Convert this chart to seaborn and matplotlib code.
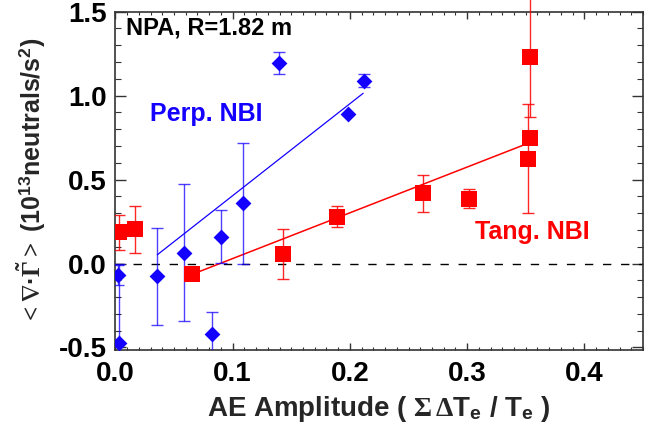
"""AE amplitude vs neutral flux divergence (NPA), perpendicular and tangential NBI."""

import matplotlib

matplotlib.use("Agg")
import matplotlib.pyplot as plt
import numpy as np
import pandas as pd
import seaborn as sns
from matplotlib.ticker import FormatStrFormatter, MultipleLocator

# Perp. NBI (blue diamonds)
perp_x = [0.0025, 0.003, 0.0357, 0.0587, 0.0824, 0.090, 0.1085, 0.1395, 0.1986, 0.2122]
perp_y = [-0.067, -0.472, -0.077, 0.065, -0.42, 0.161, 0.36, 1.193, 0.891, 1.089]
perp_err = [0.06, 0.47, 0.29, 0.41, 0.13, 0.16, 0.36, 0.065, 0.0, 0.04]
perp_fit_x = [0.0357, 0.2113]
perp_fit_y = [0.052, 1.014]

# Tang. NBI (red squares)
tang_x = [0.003, 0.0167, 0.065, 0.1431, 0.1892, 0.2625, 0.3017, 0.3523, 0.354, 0.354]
tang_y = [0.187, 0.205, -0.063, 0.056, 0.28, 0.419, 0.385, 0.625, 0.746, 1.23]
tang_err = [0.105, 0.14, 0.0, 0.15, 0.063, 0.11, 0.057, 0.325, 0.0, 0.36]
tang_fit_x = [0.0693, 0.3506]
tang_fit_y = [-0.054, 0.7125]

x_ticks = [0.0, 0.1, 0.2, 0.3, 0.4]
y_ticks = [-0.5, 0.0, 0.5, 1.0, 1.5]

BLUE = "#1400ff"
RED = "#ff0000"

sns.set_theme(style="ticks")
plt.rcParams["font.family"] = ["Liberation Sans", "DejaVu Sans"]
plt.rcParams["font.weight"] = "bold"
plt.rcParams["axes.unicode_minus"] = False
plt.rcParams["mathtext.fontset"] = "custom"
plt.rcParams["mathtext.rm"] = "Liberation Serif"
plt.rcParams["mathtext.it"] = "Liberation Serif:italic"
plt.rcParams["mathtext.bf"] = "Liberation Sans:bold"
plt.rcParams["mathtext.fallback"] = "stix"

perp = pd.DataFrame({"x": perp_x, "y": perp_y})
tang = pd.DataFrame({"x": tang_x, "y": tang_y})

fig = plt.figure(figsize=(6.51, 4.37), dpi=100)
ax = fig.add_axes([0.1773, 0.1991, 0.8104, 0.7741])

ax.axhline(0, color="black", lw=1, linestyle=(0, (6, 7)), zorder=1)

# fit lines
sns.lineplot(x=perp_fit_x, y=perp_fit_y, color=BLUE, lw=0.9, ax=ax, zorder=2)
sns.lineplot(x=tang_fit_x, y=tang_fit_y, color=RED, lw=1.1, ax=ax, zorder=2)

# error bars
ax.errorbar(perp_x, perp_y, yerr=perp_err, fmt="none", ecolor=BLUE, elinewidth=1,
            capsize=4, capthick=1, alpha=0.75, zorder=3)
eb = ax.errorbar(tang_x, tang_y, yerr=tang_err, fmt="none", ecolor=RED, elinewidth=1,
                 capsize=4, capthick=1, alpha=0.85, zorder=3)
for art in eb.lines[2]:
    art.set_clip_on(False)

# markers
sns.scatterplot(data=perp, x="x", y="y", marker="D", s=65, color=BLUE,
                edgecolor=BLUE, linewidth=0, ax=ax, zorder=4)
sns.scatterplot(data=tang, x="x", y="y", marker="s", s=125, color=RED,
                edgecolor=RED, linewidth=0, ax=ax, zorder=4)

ax.set_xlim(0.0, 0.45)
ax.set_ylim(-0.515, 1.5)
ax.set_xticks(x_ticks)
ax.set_yticks(y_ticks)
ax.xaxis.set_minor_locator(MultipleLocator(0.01))
ax.yaxis.set_minor_locator(MultipleLocator(0.1))
ax.xaxis.set_major_formatter(FormatStrFormatter("%.1f"))
ax.yaxis.set_major_formatter(FormatStrFormatter("%.1f"))
ax.tick_params(axis="both", which="both", direction="in", top=True, right=True,
               colors="#333333", labelcolor="black", labelsize=20)
ax.tick_params(axis="x", which="major", length=5, width=1, pad=8)
ax.tick_params(axis="x", which="minor", length=2.5, width=0.8)
ax.tick_params(axis="y", which="major", length=8, width=1, pad=6)
ax.tick_params(axis="y", which="minor", length=4, width=0.8)
for sp in ax.spines.values():
    sp.set_visible(True)
    sp.set_linewidth(1.2)
    sp.set_color("#333333")

ax.set_xlabel(r"AE Amplitude ( $\Sigma\,\Delta$T$_\mathbf{e}$ / T$_\mathbf{e}$ )",
              fontsize=20, fontweight="bold", labelpad=5)
ax.set_ylabel(r"$<\nabla$·$\tilde{\Gamma}>$ (10$^\mathbf{13}$neutrals/s$^\mathbf{2}$)",
              fontsize=18, fontweight="bold", labelpad=8)

ax.text(0.009, 1.403, "NPA, R=1.82 m", fontsize=17, fontweight="bold",
        color="black", va="center", ha="left")
ax.text(0.0295, 0.89, "Perp. NBI", fontsize=18, fontweight="bold",
        color=BLUE, va="center", ha="left")
ax.text(0.3066, 0.189, "Tang. NBI", fontsize=18, fontweight="bold",
        color=RED, va="center", ha="left")

fig.savefig("out.png", dpi=100)
plt.close(fig)
